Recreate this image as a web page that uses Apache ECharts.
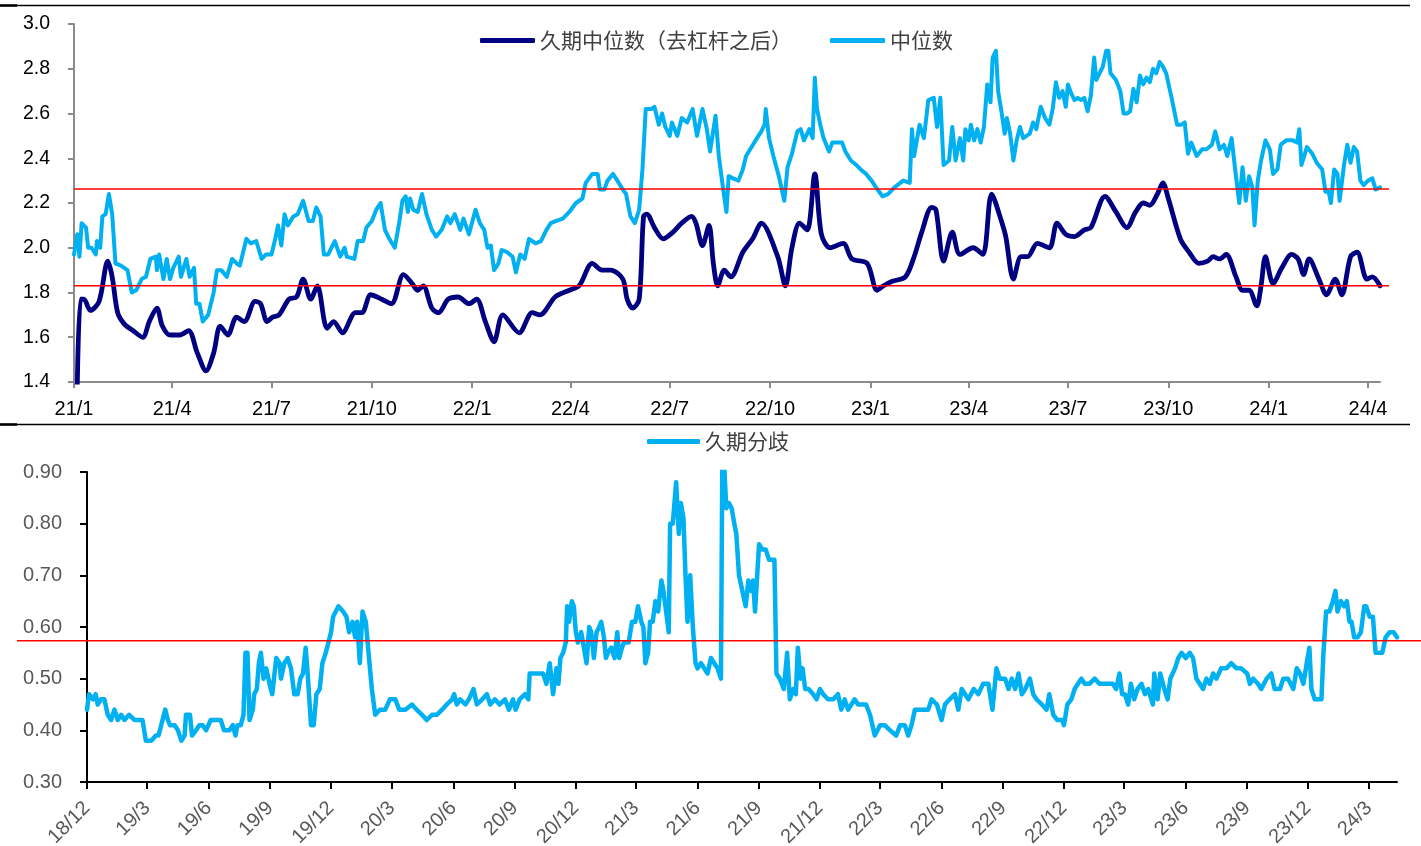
<!DOCTYPE html>
<html><head><meta charset="utf-8">
<script src="https://cdn.jsdelivr.net/npm/echarts@6/dist/echarts.min.js"></script>
<style>html,body{margin:0;padding:0;background:#fff}#c{width:1421px;height:846px}</style>
</head><body><div id="c"></div>
<script>
// ---------- tick labels ----------
const topTickDates = ['2021-01-01','2021-04-01','2021-07-01','2021-10-01','2022-01-01','2022-04-01','2022-07-01','2022-10-01','2023-01-01','2023-04-01','2023-07-01','2023-10-01','2024-01-01','2024-04-01'];
const topTickLabels = ['21/1','21/4','21/7','21/10','22/1','22/4','22/7','22/10','23/1','23/4','23/7','23/10','24/1','24/4'];
const botTickDates = ['2018-12-01','2019-03-01','2019-06-01','2019-09-01','2019-12-01','2020-03-01','2020-06-01','2020-09-01','2020-12-01','2021-03-01','2021-06-01','2021-09-01','2021-12-01','2022-03-01','2022-06-01','2022-09-01','2022-12-01','2023-03-01','2023-06-01','2023-09-01','2023-12-01','2024-03-01'];
const botTickLabels = ['18/12','19/3','19/6','19/9','19/12','20/3','20/6','20/9','20/12','21/3','21/6','21/9','21/12','22/3','22/6','22/9','22/12','23/3','23/6','23/9','23/12','24/3'];

// ---------- names ----------
const nameDur = '久期中位数（去杠杆之后）';
const nameMed = '中位数';
const nameDiv = '久期分歧';

// ---------- reference levels ----------
const topRefLevels = [2.263, 1.830];
const botRefLevels = [0.5735];

// ---------- 久期中位数（去杠杆之后） ----------
const durDates = ['2021-01-04','2021-01-07','2021-01-10','2021-01-16','2021-01-24','2021-02-01','2021-02-05','2021-02-10','2021-02-16','2021-02-24','2021-03-05','2021-03-11','2021-03-18','2021-03-23','2021-03-30','2021-04-08','2021-04-16','2021-04-24','2021-05-02','2021-05-09','2021-05-15','2021-05-22','2021-05-30','2021-06-06','2021-06-16','2021-06-21','2021-06-27','2021-07-02','2021-07-08','2021-07-17','2021-07-24','2021-07-30','2021-08-06','2021-08-12','2021-08-21','2021-08-27','2021-09-04','2021-09-16','2021-09-22','2021-09-30','2021-10-10','2021-10-19','2021-10-30','2021-11-07','2021-11-12','2021-11-17','2021-11-25','2021-12-01','2021-12-10','2021-12-19','2021-12-29','2022-01-05','2022-01-13','2022-01-21','2022-01-29','2022-02-13','2022-02-25','2022-03-04','2022-03-18','2022-03-31','2022-04-09','2022-04-21','2022-04-30','2022-05-08','2022-05-19','2022-05-23','2022-05-28','2022-06-03','2022-06-07','2022-06-10','2022-06-17','2022-06-25','2022-07-04','2022-07-12','2022-07-21','2022-07-25','2022-07-31','2022-08-06','2022-08-10','2022-08-14','2022-08-20','2022-08-26','2022-09-06','2022-09-15','2022-09-23','2022-10-08','2022-10-15','2022-10-21','2022-10-28','2022-11-04','2022-11-11','2022-11-17','2022-11-25','2022-12-07','2022-12-15','2022-12-29','2023-01-07','2023-01-13','2023-01-21','2023-02-02','2023-02-10','2023-02-17','2023-02-26','2023-03-02','2023-03-09','2023-03-17','2023-03-24','2023-04-05','2023-04-14','2023-04-22','2023-05-01','2023-05-05','2023-05-12','2023-05-19','2023-05-25','2023-06-03','2023-06-14','2023-06-21','2023-06-29','2023-07-07','2023-07-16','2023-07-22','2023-08-04','2023-08-14','2023-08-24','2023-09-01','2023-09-08','2023-09-14','2023-09-21','2023-09-26','2023-10-01','2023-10-12','2023-10-20','2023-10-29','2023-11-06','2023-11-11','2023-11-17','2023-11-23','2023-12-02','2023-12-08','2023-12-14','2023-12-21','2023-12-25','2023-12-29','2024-01-05','2024-01-13','2024-01-22','2024-01-28','2024-02-02','2024-02-07','2024-02-16','2024-02-23','2024-03-02','2024-03-08','2024-03-16','2024-03-22','2024-03-31','2024-04-05','2024-04-12'];
const durVals = [1.38,1.77,1.77,1.72,1.76,1.94,1.87,1.71,1.66,1.63,1.60,1.67,1.73,1.65,1.61,1.61,1.63,1.53,1.45,1.53,1.65,1.61,1.69,1.67,1.76,1.75,1.67,1.69,1.70,1.77,1.78,1.86,1.77,1.83,1.64,1.67,1.62,1.71,1.71,1.79,1.77,1.75,1.88,1.84,1.81,1.83,1.73,1.71,1.77,1.78,1.75,1.77,1.67,1.58,1.70,1.62,1.71,1.70,1.78,1.81,1.83,1.93,1.90,1.90,1.86,1.77,1.73,1.77,2.14,2.15,2.09,2.04,2.07,2.11,2.14,2.11,2.01,2.10,1.93,1.83,1.90,1.87,1.98,2.04,2.11,1.96,1.83,2.00,2.11,2.08,2.33,2.06,2.00,2.02,1.95,1.93,1.81,1.83,1.85,1.87,1.96,2.07,2.18,2.17,1.94,2.07,1.97,2.00,1.97,2.24,2.12,2.05,1.86,1.96,1.96,2.02,2.00,2.11,2.06,2.05,2.08,2.09,2.23,2.16,2.09,2.16,2.20,2.19,2.24,2.29,2.22,2.04,1.98,1.93,1.94,1.96,1.95,1.97,1.87,1.81,1.81,1.74,1.83,1.96,1.84,1.91,1.97,1.95,1.88,1.95,1.86,1.79,1.86,1.79,1.96,1.98,1.86,1.87,1.83];

// ---------- 中位数 ----------
const medDates = ['2021-01-01','2021-01-04','2021-01-06','2021-01-08','2021-01-12','2021-01-14','2021-01-17','2021-01-21','2021-01-22','2021-01-25','2021-01-27','2021-01-30','2021-02-02','2021-02-05','2021-02-08','2021-02-13','2021-02-19','2021-02-23','2021-02-27','2021-03-04','2021-03-08','2021-03-12','2021-03-17','2021-03-18','2021-03-20','2021-03-24','2021-03-27','2021-03-30','2021-04-02','2021-04-07','2021-04-09','2021-04-14','2021-04-17','2021-04-21','2021-04-23','2021-04-26','2021-04-29','2021-05-04','2021-05-09','2021-05-12','2021-05-16','2021-05-21','2021-05-26','2021-05-30','2021-06-02','2021-06-08','2021-06-12','2021-06-17','2021-06-22','2021-06-26','2021-07-01','2021-07-04','2021-07-07','2021-07-10','2021-07-13','2021-07-16','2021-07-21','2021-07-25','2021-07-30','2021-08-04','2021-08-08','2021-08-11','2021-08-15','2021-08-18','2021-08-22','2021-08-28','2021-09-02','2021-09-06','2021-09-08','2021-09-15','2021-09-18','2021-09-23','2021-09-26','2021-10-01','2021-10-05','2021-10-09','2021-10-13','2021-10-17','2021-10-22','2021-10-26','2021-10-29','2021-11-01','2021-11-03','2021-11-05','2021-11-08','2021-11-12','2021-11-16','2021-11-20','2021-11-25','2021-11-29','2021-12-04','2021-12-09','2021-12-12','2021-12-16','2021-12-21','2021-12-24','2021-12-29','2022-01-04','2022-01-08','2022-01-12','2022-01-15','2022-01-18','2022-01-21','2022-01-25','2022-01-28','2022-02-02','2022-02-07','2022-02-10','2022-02-14','2022-02-18','2022-02-22','2022-02-28','2022-03-05','2022-03-10','2022-03-14','2022-03-19','2022-03-25','2022-03-31','2022-04-06','2022-04-12','2022-04-15','2022-04-21','2022-04-26','2022-04-28','2022-05-02','2022-05-05','2022-05-10','2022-05-14','2022-05-19','2022-05-22','2022-05-26','2022-05-30','2022-06-03','2022-06-06','2022-06-09','2022-06-14','2022-06-17','2022-06-21','2022-06-24','2022-06-27','2022-07-01','2022-07-03','2022-07-08','2022-07-12','2022-07-17','2022-07-22','2022-07-26','2022-07-31','2022-08-04','2022-08-07','2022-08-12','2022-08-15','2022-08-19','2022-08-22','2022-08-24','2022-08-28','2022-09-02','2022-09-06','2022-09-09','2022-09-14','2022-09-19','2022-09-23','2022-09-26','2022-09-27','2022-09-30','2022-10-04','2022-10-09','2022-10-14','2022-10-17','2022-10-21','2022-10-26','2022-10-29','2022-11-01','2022-11-06','2022-11-09','2022-11-11','2022-11-13','2022-11-16','2022-11-19','2022-11-24','2022-11-27','2022-12-02','2022-12-06','2022-12-09','2022-12-14','2022-12-19','2022-12-23','2022-12-28','2023-01-02','2023-01-06','2023-01-12','2023-01-17','2023-01-23','2023-01-31','2023-02-06','2023-02-08','2023-02-10','2023-02-15','2023-02-19','2023-02-23','2023-02-28','2023-03-03','2023-03-06','2023-03-09','2023-03-14','2023-03-17','2023-03-20','2023-03-24','2023-03-27','2023-03-29','2023-04-01','2023-04-03','2023-04-06','2023-04-09','2023-04-12','2023-04-15','2023-04-18','2023-04-21','2023-04-23','2023-04-26','2023-04-28','2023-05-01','2023-05-04','2023-05-06','2023-05-09','2023-05-12','2023-05-15','2023-05-18','2023-05-21','2023-05-27','2023-05-30','2023-06-02','2023-06-06','2023-06-10','2023-06-14','2023-06-17','2023-06-20','2023-06-23','2023-06-26','2023-06-29','2023-07-01','2023-07-04','2023-07-07','2023-07-10','2023-07-13','2023-07-16','2023-07-19','2023-07-22','2023-07-25','2023-07-27','2023-07-30','2023-08-02','2023-08-05','2023-08-07','2023-08-09','2023-08-14','2023-08-18','2023-08-21','2023-08-24','2023-08-27','2023-08-30','2023-09-02','2023-09-05','2023-09-08','2023-09-11','2023-09-14','2023-09-17','2023-09-20','2023-09-23','2023-09-26','2023-09-29','2023-10-04','2023-10-09','2023-10-13','2023-10-16','2023-10-19','2023-10-22','2023-10-27','2023-11-01','2023-11-05','2023-11-10','2023-11-13','2023-11-17','2023-11-21','2023-11-24','2023-11-28','2023-12-01','2023-12-05','2023-12-08','2023-12-11','2023-12-14','2023-12-17','2023-12-19','2023-12-22','2023-12-25','2023-12-29','2024-01-02','2024-01-05','2024-01-09','2024-01-12','2024-01-17','2024-01-23','2024-01-27','2024-01-29','2024-01-31','2024-02-05','2024-02-10','2024-02-14','2024-02-19','2024-02-22','2024-02-25','2024-02-27','2024-03-01','2024-03-04','2024-03-06','2024-03-10','2024-03-13','2024-03-16','2024-03-19','2024-03-22','2024-03-25','2024-03-28','2024-04-01','2024-04-05','2024-04-08','2024-04-12'];
const medVals = [1.97,2.06,1.96,2.11,2.09,2.00,2.00,1.97,2.03,2.00,2.14,2.15,2.24,2.15,1.93,1.92,1.90,1.80,1.81,1.86,1.87,1.95,1.96,1.90,1.97,1.86,1.95,1.86,1.91,1.96,1.87,1.95,1.87,1.91,1.75,1.75,1.67,1.70,1.80,1.90,1.90,1.87,1.95,1.93,1.92,2.04,2.02,2.03,1.95,1.97,1.97,2.03,2.10,2.01,2.15,2.10,2.14,2.15,2.21,2.12,2.12,2.18,2.14,1.97,1.97,2.03,1.96,2.00,1.96,1.95,2.03,2.03,2.09,2.12,2.17,2.20,2.08,2.04,2.00,2.11,2.21,2.23,2.16,2.22,2.17,2.16,2.24,2.15,2.08,2.05,2.08,2.14,2.11,2.15,2.08,2.13,2.06,2.17,2.11,2.08,2.00,2.01,1.90,1.93,1.99,1.98,1.96,1.89,1.97,1.95,2.04,2.02,2.03,2.08,2.11,2.12,2.13,2.16,2.20,2.22,2.29,2.33,2.33,2.26,2.26,2.30,2.33,2.30,2.26,2.24,2.14,2.11,2.17,2.35,2.62,2.62,2.63,2.55,2.60,2.54,2.50,2.56,2.50,2.58,2.56,2.62,2.50,2.62,2.53,2.43,2.59,2.41,2.26,2.16,2.32,2.31,2.30,2.35,2.41,2.45,2.49,2.52,2.55,2.62,2.49,2.41,2.32,2.21,2.36,2.42,2.52,2.53,2.48,2.53,2.49,2.76,2.62,2.55,2.49,2.43,2.47,2.47,2.47,2.43,2.39,2.37,2.35,2.33,2.30,2.27,2.23,2.24,2.27,2.30,2.29,2.53,2.41,2.55,2.49,2.66,2.67,2.54,2.67,2.37,2.39,2.54,2.39,2.49,2.39,2.53,2.48,2.55,2.48,2.53,2.47,2.54,2.73,2.65,2.85,2.88,2.70,2.61,2.51,2.58,2.51,2.39,2.48,2.54,2.49,2.51,2.56,2.53,2.63,2.58,2.55,2.62,2.74,2.67,2.70,2.63,2.73,2.69,2.66,2.67,2.66,2.67,2.61,2.68,2.85,2.75,2.78,2.81,2.88,2.88,2.78,2.75,2.70,2.60,2.60,2.61,2.71,2.65,2.77,2.73,2.76,2.74,2.80,2.78,2.83,2.81,2.78,2.67,2.55,2.55,2.56,2.42,2.47,2.41,2.44,2.44,2.46,2.52,2.44,2.46,2.41,2.49,2.36,2.20,2.36,2.21,2.32,2.27,2.10,2.30,2.39,2.48,2.44,2.33,2.35,2.46,2.48,2.48,2.47,2.53,2.37,2.45,2.42,2.38,2.35,2.25,2.25,2.20,2.35,2.33,2.21,2.37,2.46,2.38,2.45,2.43,2.30,2.28,2.30,2.31,2.26,2.27];

// ---------- 久期分歧 ----------
const divDates = ['2018-12-01','2018-12-04','2018-12-10','2018-12-14','2018-12-17','2018-12-22','2018-12-27','2019-01-01','2019-01-06','2019-01-11','2019-01-16','2019-01-21','2019-01-26','2019-02-02','2019-02-10','2019-02-17','2019-02-22','2019-02-27','2019-03-07','2019-03-14','2019-03-18','2019-03-22','2019-03-28','2019-04-01','2019-04-04','2019-04-11','2019-04-16','2019-04-21','2019-04-26','2019-04-28','2019-05-04','2019-05-07','2019-05-13','2019-05-18','2019-05-23','2019-05-28','2019-06-04','2019-06-12','2019-06-19','2019-06-24','2019-07-02','2019-07-07','2019-07-11','2019-07-14','2019-07-19','2019-07-23','2019-07-26','2019-07-29','2019-08-01','2019-08-06','2019-08-08','2019-08-12','2019-08-15','2019-08-18','2019-08-22','2019-08-26','2019-08-31','2019-09-04','2019-09-10','2019-09-15','2019-09-17','2019-09-22','2019-09-27','2019-10-02','2019-10-07','2019-10-12','2019-10-16','2019-10-20','2019-10-24','2019-10-27','2019-11-01','2019-11-05','2019-11-09','2019-11-14','2019-11-18','2019-11-23','2019-11-27','2019-12-01','2019-12-04','2019-12-12','2019-12-19','2019-12-24','2019-12-28','2020-01-02','2020-01-06','2020-01-09','2020-01-13','2020-01-17','2020-01-22','2020-01-26','2020-01-31','2020-02-05','2020-02-12','2020-02-20','2020-02-27','2020-03-06','2020-03-12','2020-03-21','2020-03-31','2020-04-07','2020-04-15','2020-04-22','2020-04-30','2020-05-07','2020-05-15','2020-05-22','2020-05-30','2020-06-02','2020-06-06','2020-06-11','2020-06-19','2020-06-24','2020-07-01','2020-07-06','2020-07-14','2020-07-21','2020-07-26','2020-08-02','2020-08-09','2020-08-17','2020-08-23','2020-08-29','2020-09-02','2020-09-08','2020-09-16','2020-09-21','2020-09-23','2020-10-01','2020-10-08','2020-10-13','2020-10-18','2020-10-23','2020-10-28','2020-11-02','2020-11-05','2020-11-08','2020-11-12','2020-11-16','2020-11-18','2020-11-21','2020-11-25','2020-11-28','2020-12-01','2020-12-04','2020-12-09','2020-12-13','2020-12-17','2020-12-21','2020-12-24','2020-12-28','2021-01-01','2021-01-05','2021-01-08','2021-01-12','2021-01-15','2021-01-18','2021-01-23','2021-01-28','2021-02-01','2021-02-04','2021-02-08','2021-02-11','2021-02-18','2021-02-23','2021-02-28','2021-03-04','2021-03-09','2021-03-12','2021-03-15','2021-03-19','2021-03-22','2021-03-26','2021-03-30','2021-04-03','2021-04-08','2021-04-11','2021-04-15','2021-04-19','2021-04-21','2021-04-25','2021-04-30','2021-05-04','2021-05-07','2021-05-11','2021-05-14','2021-05-17','2021-05-21','2021-05-25','2021-05-29','2021-06-01','2021-06-06','2021-06-11','2021-06-16','2021-06-21','2021-06-26','2021-07-01','2021-07-06','2021-07-08','2021-07-11','2021-07-14','2021-07-18','2021-07-22','2021-07-26','2021-07-29','2021-08-02','2021-08-07','2021-08-12','2021-08-16','2021-08-20','2021-08-23','2021-08-26','2021-09-01','2021-09-06','2021-09-11','2021-09-16','2021-09-21','2021-09-24','2021-09-27','2021-10-02','2021-10-08','2021-10-13','2021-10-17','2021-10-22','2021-10-26','2021-10-29','2021-11-02','2021-11-05','2021-11-09','2021-11-14','2021-11-21','2021-11-26','2021-12-01','2021-12-06','2021-12-13','2021-12-21','2021-12-28','2022-01-02','2022-01-07','2022-01-12','2022-01-17','2022-01-22','2022-01-27','2022-02-01','2022-02-08','2022-02-14','2022-02-21','2022-03-01','2022-03-08','2022-03-16','2022-03-25','2022-03-31','2022-04-07','2022-04-12','2022-04-17','2022-04-22','2022-04-27','2022-05-05','2022-05-12','2022-05-17','2022-05-25','2022-06-01','2022-06-06','2022-06-13','2022-06-21','2022-06-26','2022-07-01','2022-07-06','2022-07-11','2022-07-19','2022-07-26','2022-08-02','2022-08-10','2022-08-16','2022-08-22','2022-08-27','2022-09-04','2022-09-09','2022-09-14','2022-09-19','2022-09-24','2022-09-29','2022-10-04','2022-10-11','2022-10-16','2022-10-21','2022-10-29','2022-11-05','2022-11-09','2022-11-15','2022-11-21','2022-11-28','2022-12-01','2022-12-06','2022-12-12','2022-12-17','2022-12-22','2022-12-27','2023-01-01','2023-01-08','2023-01-16','2023-01-23','2023-01-31','2023-02-05','2023-02-12','2023-02-17','2023-02-22','2023-02-26','2023-03-02','2023-03-07','2023-03-11','2023-03-16','2023-03-21','2023-03-27','2023-04-01','2023-04-06','2023-04-13','2023-04-15','2023-04-20','2023-04-24','2023-04-30','2023-05-05','2023-05-09','2023-05-16','2023-05-21','2023-05-26','2023-06-01','2023-06-07','2023-06-12','2023-06-17','2023-06-22','2023-06-27','2023-07-02','2023-07-07','2023-07-12','2023-07-17','2023-07-24','2023-08-01','2023-08-08','2023-08-16','2023-08-23','2023-09-01','2023-09-05','2023-09-10','2023-09-17','2023-09-22','2023-09-30','2023-10-07','2023-10-12','2023-10-20','2023-10-25','2023-11-01','2023-11-09','2023-11-14','2023-11-19','2023-11-24','2023-11-29','2023-12-03','2023-12-06','2023-12-11','2023-12-16','2023-12-21','2023-12-24','2023-12-28','2024-01-02','2024-01-07','2024-01-11','2024-01-14','2024-01-19','2024-01-24','2024-01-28','2024-02-01','2024-02-04','2024-02-08','2024-02-13','2024-02-18','2024-02-23','2024-02-26','2024-03-02','2024-03-07','2024-03-11','2024-03-16','2024-03-21','2024-03-26','2024-04-01','2024-04-07','2024-04-12'];
const divVals = [0.44,0.47,0.46,0.47,0.45,0.46,0.46,0.43,0.42,0.44,0.42,0.43,0.42,0.43,0.42,0.42,0.42,0.38,0.38,0.39,0.39,0.41,0.44,0.42,0.41,0.41,0.40,0.38,0.39,0.43,0.43,0.39,0.40,0.41,0.41,0.40,0.42,0.42,0.42,0.40,0.40,0.41,0.39,0.41,0.41,0.43,0.55,0.55,0.42,0.44,0.47,0.48,0.53,0.55,0.50,0.52,0.49,0.47,0.54,0.53,0.50,0.53,0.54,0.52,0.47,0.47,0.50,0.51,0.56,0.51,0.41,0.41,0.47,0.48,0.53,0.55,0.57,0.59,0.62,0.64,0.63,0.62,0.59,0.61,0.58,0.61,0.53,0.63,0.61,0.55,0.48,0.43,0.44,0.44,0.46,0.46,0.44,0.44,0.45,0.44,0.43,0.42,0.43,0.43,0.44,0.45,0.46,0.47,0.45,0.46,0.45,0.46,0.48,0.45,0.46,0.47,0.45,0.46,0.45,0.46,0.44,0.46,0.44,0.46,0.47,0.46,0.51,0.51,0.51,0.51,0.49,0.53,0.47,0.52,0.49,0.54,0.55,0.57,0.64,0.61,0.65,0.64,0.59,0.57,0.59,0.56,0.53,0.60,0.59,0.54,0.59,0.60,0.61,0.58,0.54,0.55,0.56,0.54,0.59,0.54,0.56,0.57,0.57,0.61,0.61,0.64,0.61,0.60,0.53,0.55,0.61,0.61,0.65,0.63,0.69,0.67,0.63,0.59,0.80,0.80,0.88,0.78,0.84,0.81,0.70,0.61,0.70,0.60,0.53,0.52,0.53,0.52,0.51,0.54,0.53,0.52,0.50,0.91,0.91,0.83,0.84,0.83,0.80,0.78,0.70,0.67,0.64,0.69,0.67,0.69,0.63,0.76,0.75,0.75,0.73,0.73,0.73,0.51,0.50,0.48,0.55,0.46,0.48,0.47,0.56,0.50,0.52,0.48,0.48,0.47,0.46,0.48,0.47,0.46,0.46,0.47,0.44,0.46,0.44,0.45,0.46,0.45,0.45,0.45,0.43,0.39,0.41,0.41,0.40,0.39,0.41,0.41,0.39,0.41,0.44,0.44,0.44,0.44,0.46,0.45,0.42,0.45,0.46,0.47,0.44,0.48,0.47,0.46,0.48,0.47,0.49,0.49,0.44,0.52,0.50,0.50,0.48,0.50,0.48,0.51,0.47,0.48,0.50,0.47,0.46,0.45,0.44,0.47,0.43,0.42,0.42,0.41,0.45,0.46,0.48,0.49,0.50,0.49,0.49,0.50,0.49,0.49,0.49,0.49,0.48,0.51,0.47,0.47,0.45,0.49,0.46,0.48,0.49,0.47,0.48,0.45,0.51,0.46,0.51,0.48,0.46,0.50,0.52,0.54,0.55,0.54,0.55,0.54,0.50,0.49,0.48,0.50,0.49,0.51,0.50,0.52,0.52,0.53,0.52,0.52,0.51,0.49,0.50,0.49,0.48,0.50,0.51,0.48,0.48,0.50,0.50,0.48,0.52,0.51,0.49,0.53,0.56,0.48,0.46,0.46,0.46,0.55,0.63,0.63,0.65,0.67,0.63,0.65,0.64,0.65,0.61,0.61,0.58,0.58,0.59,0.64,0.64,0.62,0.62,0.55,0.55,0.55,0.58,0.59,0.59,0.58];

// ---------- helpers ----------
function ts(s){const p=s.split('-').map(Number);return Date.UTC(p[0],p[1]-1,p[2]);}
function pairs(dates, vals){return dates.map((d,i)=>[ts(d),vals[i]]).sort((a,b)=>a[0]-b[0]);}
const topTicks = topTickDates.map(ts), botTicks = botTickDates.map(ts);
const topMin = ts('2021-01-01'), topMax = ts('2024-04-12');
const botMin = ts('2018-12-01'), botMax = ts('2024-04-12');
function labeler(ticks, labels){return v=>{let bi=-1,bd=Infinity;ticks.forEach((t,i)=>{const d=Math.abs(t-v);if(d<bd){bd=d;bi=i;}});return bd<86400000*2?labels[bi]:'';};}

const NAVY='#000080', CYAN='#00B0F0', RED='#FF0000';
const numFont='"Liberation Sans", Arial, sans-serif';
const cjkFont='"Noto Sans CJK SC", sans-serif';

const chart = echarts.init(document.getElementById('c'), null, {renderer:'canvas'});
const hidden = {show:false};
const option = {
  animation:false,
  backgroundColor:'#fff',
  grid:[
    {left:74,right:41,top:24,bottom:464,outerBoundsMode:'none'},
    {left:74,right:32,top:24,bottom:464,outerBoundsMode:'none'},
    {left:87,right:24,top:472,bottom:64,outerBoundsMode:'none'},
    {left:17,right:0,top:472,bottom:64,outerBoundsMode:'none'}
  ],
  legend:[
    {data:[nameDur,nameMed],left:480,top:30,padding:0,itemWidth:55,itemHeight:5,itemGap:38,icon:'roundRect',
     textStyle:{fontFamily:cjkFont,fontSize:21,color:'#404040'}},
    {data:[nameDiv],left:647,top:431,padding:0,itemWidth:53,itemHeight:5,icon:'roundRect',
     textStyle:{fontFamily:cjkFont,fontSize:21,color:'#404040'}}
  ],
  xAxis:[
    {gridIndex:0,type:'value',min:topMin,max:topMax,
     axisLine:{show:true,onZero:false,lineStyle:{color:'#8c8c8c',width:2}},
     axisTick:{show:true,customValues:topTicks,length:6,lineStyle:{color:'#8c8c8c',width:2}},
     axisLabel:{customValues:topTicks,formatter:labeler(topTicks,topTickLabels),color:'#000',fontSize:20,fontFamily:numFont,margin:17},
     splitLine:hidden},
    {gridIndex:1,type:'value',min:0,max:1,show:false},
    {gridIndex:2,type:'value',min:botMin,max:botMax,
     axisLine:{show:true,onZero:false,lineStyle:{color:'#000',width:2}},
     axisTick:{show:true,customValues:botTicks,length:7,lineStyle:{color:'#000',width:2}},
     axisLabel:{customValues:botTicks,formatter:labeler(botTicks,botTickLabels),rotate:45,color:'#595959',fontSize:20,fontFamily:numFont,margin:23},
     splitLine:hidden},
    {gridIndex:3,type:'value',min:0,max:1,show:false}
  ],
  yAxis:[
    {gridIndex:0,type:'value',min:1.4,max:3.0,interval:0.2,
     axisLine:{show:true,lineStyle:{color:'#8c8c8c',width:2}},
     axisTick:{show:true,length:6,lineStyle:{color:'#8c8c8c',width:2}},
     axisLabel:{formatter:v=>v.toFixed(1),color:'#000',fontSize:19.5,fontFamily:numFont,margin:24},
     splitLine:hidden},
    {gridIndex:1,type:'value',min:1.4,max:3.0,show:false},
    {gridIndex:2,type:'value',min:0.3,max:0.9,interval:0.1,
     axisLine:{show:true,lineStyle:{color:'#000',width:2}},
     axisTick:{show:true,length:7,lineStyle:{color:'#000',width:2}},
     axisLabel:{formatter:v=>v.toFixed(2),color:'#595959',fontSize:20,fontFamily:numFont,margin:25},
     splitLine:hidden},
    {gridIndex:3,type:'value',min:0.3,max:0.9,show:false}
  ],
  series:[
    {name:nameDur,type:'line',xAxisIndex:0,yAxisIndex:0,data:pairs(durDates,durVals),showSymbol:false,symbol:'none',smooth:0.3,
     lineStyle:{color:NAVY,width:4.8,cap:'round',join:'round'},itemStyle:{color:NAVY},z:3},
    {name:nameMed,type:'line',xAxisIndex:0,yAxisIndex:0,data:pairs(medDates,medVals),showSymbol:false,symbol:'none',
     lineStyle:{color:CYAN,width:4,cap:'round',join:'round'},itemStyle:{color:CYAN},z:2},
    ...topRefLevels.map((v,i)=>({name:'ref'+i,type:'line',xAxisIndex:1,yAxisIndex:1,data:[[0,v],[1,v]],symbol:'none',
      lineStyle:{color:RED,width:1.5},z:4,silent:true})),
    {name:nameDiv,type:'line',xAxisIndex:2,yAxisIndex:2,data:pairs(divDates,divVals),showSymbol:false,symbol:'none',
     lineStyle:{color:CYAN,width:4.5,cap:'round',join:'round'},itemStyle:{color:CYAN},z:2},
    ...botRefLevels.map((v,i)=>({name:'refb'+i,type:'line',xAxisIndex:3,yAxisIndex:3,data:[[0,v],[1,v]],symbol:'none',
      lineStyle:{color:RED,width:1.5},z:4,silent:true}))
  ],
  graphic:[
    {type:'line',shape:{x1:0,y1:5.5,x2:1410,y2:5.5},style:{stroke:'#000',lineWidth:1.3}},
    {type:'line',shape:{x1:0,y1:5.5,x2:17,y2:5.5},style:{stroke:'#000',lineWidth:2.5}},
    {type:'line',shape:{x1:0,y1:424.5,x2:1410,y2:424.5},style:{stroke:'#000',lineWidth:1.3}},
    {type:'line',shape:{x1:0,y1:424.5,x2:17,y2:424.5},style:{stroke:'#000',lineWidth:2.5}}
  ]
};
chart.setOption(option);
</script>
</body></html>
